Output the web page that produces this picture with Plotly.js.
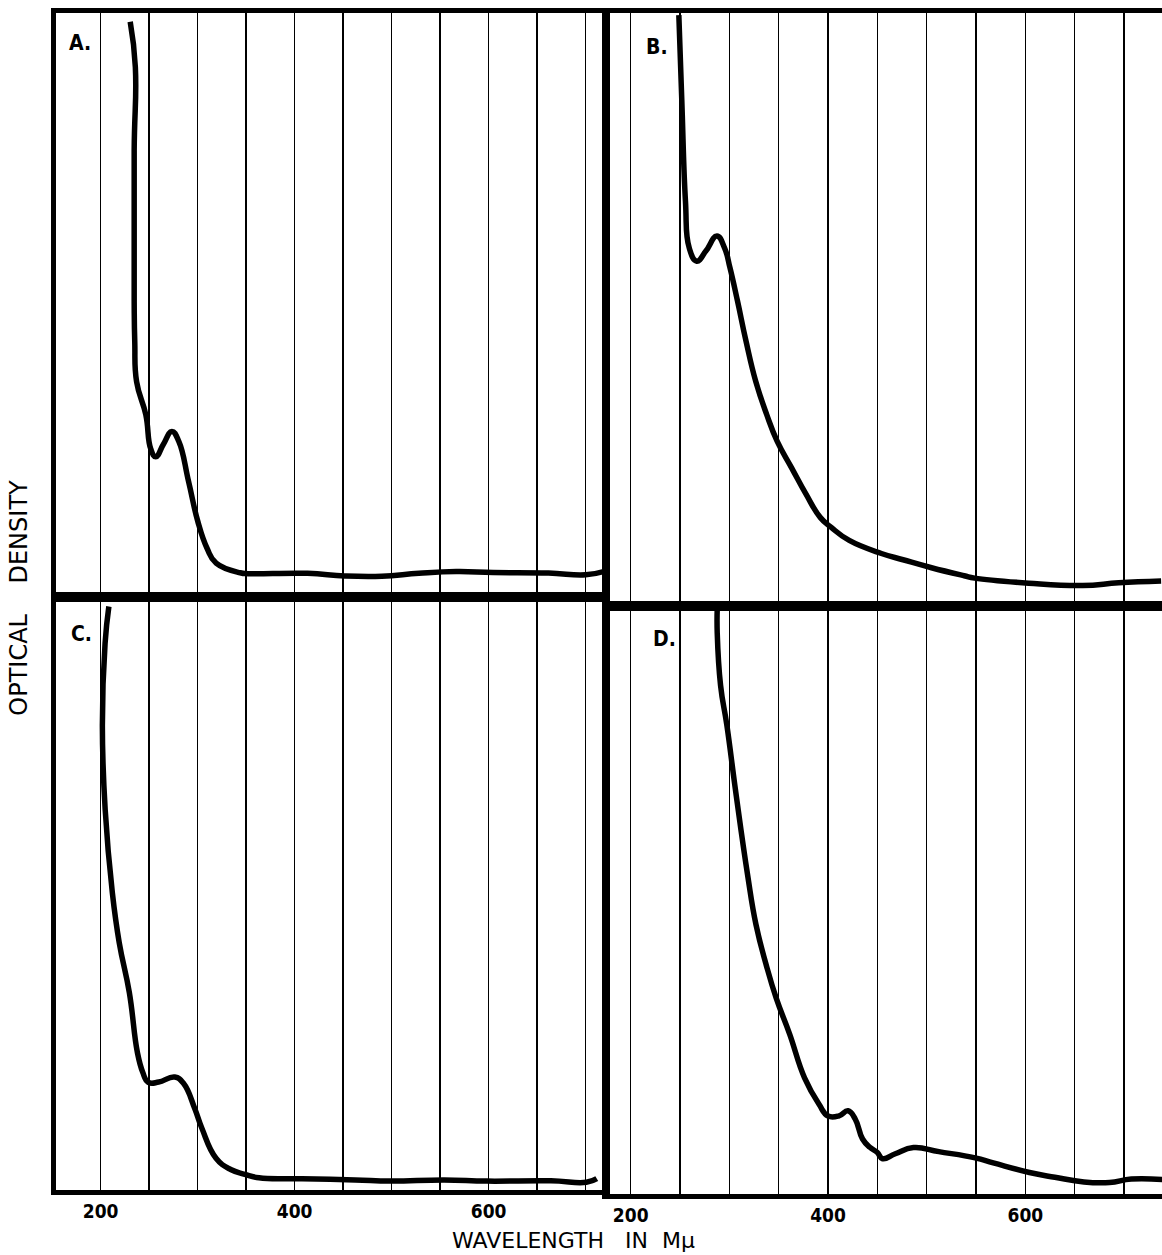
<!DOCTYPE html>
<html>
<head>
<meta charset="utf-8">
<script src="https://cdn.plot.ly/plotly-3.0.1.min.js"></script>
<style>html,body{margin:0;padding:0;background:#fff;}#chart{width:1162px;height:1255px;}</style>
</head>
<body>
<div id="chart"></div>
<script>
// Wavelength (mμ) and optical density (arbitrary units)
const wlA = [230.5,235.8,234.6,234.6,235.2,237.1,246.6,251.6,256.9,264.6,273.5,280.7,290.7,300.2,309.7,319.1,343.9,352.2,413.3,451.6,489.9,528.2,566.5,604.8,661.7,700.0,719.7];
const odA = [1.970,1.815,1.529,1.013,0.875,0.737,0.624,0.508,0.480,0.522,0.567,0.532,0.395,0.259,0.167,0.116,0.083,0.080,0.081,0.072,0.071,0.081,0.087,0.084,0.082,0.076,0.088];

const wlB = [248.8,251.8,255.5,259.3,266.9,276.2,287.4,295.1,300.6,308.3,316.9,326.7,337.7,348.4,363.1,377.7,392.3,403.3,421.5,454.1,476.0,504.9,538.0,548.6,603.5,658.1,694.6,737.6];
const odB = [1.993,1.705,1.366,1.208,1.163,1.197,1.248,1.208,1.141,1.028,0.893,0.758,0.647,0.556,0.466,0.377,0.298,0.265,0.221,0.177,0.156,0.129,0.102,0.094,0.077,0.069,0.078,0.084];

const wlC = [208.5,204.6,201.8,204.7,212.1,219.2,229.6,237.9,243.4,249.1,259.9,276.4,285.6,297.0,304.4,319.0,334.1,348.7,363.3,407.4,462.5,498.9,554.1,598.2,664.2,700.8,711.5];
const odC = [1.968,1.844,1.565,1.283,1.002,0.834,0.666,0.464,0.397,0.363,0.364,0.381,0.359,0.275,0.208,0.107,0.069,0.053,0.041,0.038,0.034,0.030,0.034,0.030,0.031,0.026,0.038];

const wlD = [287.7,287.7,291.1,297.5,306.5,318.5,327.0,337.3,347.5,361.2,376.2,390.9,400.1,411.2,420.3,427.6,435.0,442.4,449.8,455.3,468.2,486.6,512.3,549.1,567.5,604.2,629.9,659.4,685.3,707.4,739.8];
const odD = [1.988,1.909,1.730,1.594,1.367,1.085,0.916,0.780,0.666,0.543,0.395,0.305,0.265,0.266,0.283,0.255,0.187,0.159,0.142,0.120,0.137,0.158,0.144,0.123,0.106,0.073,0.057,0.041,0.039,0.051,0.049];

const gridWl = [200,250,300,350,400,450,500,550,600,650,700];
const tickText = ['200','','','','400','','','','600','',''];
const panelLabels = ['A.','B.','C.','D.'];
const yTitle = 'OPTICAL\u00a0\u00a0\u00a0\u00a0DENSITY';
const xTitle = 'WAVELENGTH\u00a0\u00a0\u00a0IN\u00a0\u00a0Mμ';

const lineStyle = {color:'#000', width:5.5, shape:'spline', smoothing:1.3};
const traces = [
  {x:wlA, y:odA, xaxis:'x', yaxis:'y', mode:'lines', line:lineStyle, hoverinfo:'skip'},
  {x:wlB, y:odB, xaxis:'x2', yaxis:'y2', mode:'lines', line:lineStyle, hoverinfo:'skip'},
  {x:wlC, y:odC, xaxis:'x3', yaxis:'y3', mode:'lines', line:lineStyle, hoverinfo:'skip'},
  {x:wlD, y:odD, xaxis:'x4', yaxis:'y4', mode:'lines', line:lineStyle, hoverinfo:'skip'}
];

const tickFont = {family:'DejaVu Sans Condensed, DejaVu Sans, sans-serif', size:19, color:'#000', weight:'bold'};
function xax(domain, range, anchor, labels, standoff){
  return {
    domain: domain, range: range, anchor: anchor,
    tickmode:'array', tickvals: gridWl, ticktext: tickText,
    showticklabels: labels, ticks:'',
    tickfont: tickFont,
    ticklabelstandoff: standoff,
    showgrid:true, gridcolor:'#000', gridwidth:1.5,
    zeroline:false, showline:true, mirror:true, linecolor:'#000', linewidth:5
  };
}
function yax(domain, anchor){
  return {
    domain: domain, range:[0,2], anchor: anchor,
    showticklabels:false, ticks:'', showgrid:false, zeroline:false,
    showline:true, mirror:true, linecolor:'#000', linewidth:5
  };
}

const labelFont = {family:'DejaVu Sans Condensed, DejaVu Sans, sans-serif', size:21, color:'#000', weight:'bold'};
const xL = [0, 0.4964], xR = [0.4982, 1];
const layout = {
  width:1162, height:1255,
  margin:{l:56, r:0, t:13, b:61},
  paper_bgcolor:'#fff', plot_bgcolor:'#fff',
  showlegend:false,
  xaxis: xax(xL, [154,720], 'y', false, 0),
  yaxis: yax([0.5055,1], 'x'),
  xaxis2: xax(xR, [176,738.5], 'y2', false, 0),
  yaxis2: yax([0.4979,1], 'x2'),
  xaxis3: xax(xL, [154,720], 'y3', true, 0),
  yaxis3: yax([0.0034,0.5055], 'x3'),
  xaxis4: xax(xR, [176,738.5], 'y4', true, 0),
  yaxis4: yax([0,0.4979], 'x4'),
  annotations: [
    {text:panelLabels[0], xref:'paper', yref:'paper', x:0.0217, y:0.9746, showarrow:false, xanchor:'center', yanchor:'middle', font:labelFont},
    {text:panelLabels[1], xref:'paper', yref:'paper', x:0.5434, y:0.9712, showarrow:false, xanchor:'center', yanchor:'middle', font:labelFont},
    {text:panelLabels[2], xref:'paper', yref:'paper', x:0.0235, y:0.4742, showarrow:false, xanchor:'center', yanchor:'middle', font:labelFont},
    {text:panelLabels[3], xref:'paper', yref:'paper', x:0.5506, y:0.4699, showarrow:false, xanchor:'center', yanchor:'middle', font:labelFont},
    {text:yTitle, xref:'paper', yref:'paper', x:-0.033, y:0.5045, showarrow:false, xanchor:'center', yanchor:'middle', textangle:-90,
     font:{family:'DejaVu Sans, sans-serif', size:24, color:'#000'}},
    {text:xTitle, xref:'paper', yref:'paper', x:0.468, y:-0.039, showarrow:false, xanchor:'center', yanchor:'middle',
     font:{family:'DejaVu Sans, sans-serif', size:22, color:'#000'}}
  ]
};

Plotly.newPlot('chart', traces, layout, {staticPlot:true, displayModeBar:false});
</script>
</body>
</html>
